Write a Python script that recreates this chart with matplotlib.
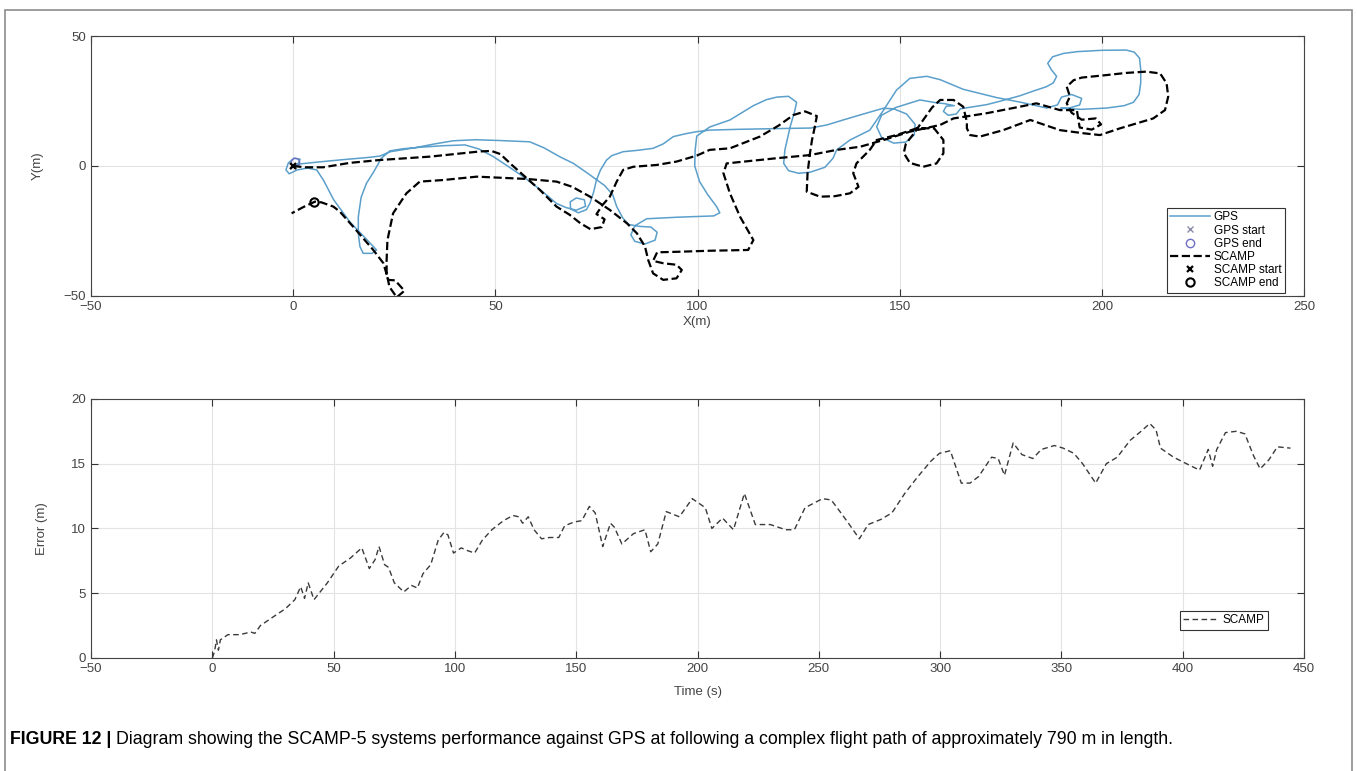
import matplotlib.pyplot as plt
from matplotlib.patches import Rectangle

plt.rcParams['font.family'] = ['Liberation Sans', 'DejaVu Sans']

# GPS track (m)
gps_x = [0, 1.7, 6, 12, 18, 21.4, 24, 30, 35, 39.6, 45, 51, 58.5, 62, 66, 69.3, 73, 77, 79, 80,
         81.5, 83, 85.5, 88.5, 90, 89.5, 87, 84.5, 83.5, 84.5, 87.4, 95, 104, 105.5, 104.7, 102.5,
         100.5, 99.3, 99.4, 99.8, 103, 108, 113.8, 117, 119.6, 122.5, 124.5, 124, 122.9, 121.6,
         121.3, 122.5, 125, 127.8, 131.5, 133.5, 134.4, 137.7, 142.6, 146, 149.2, 152.5, 156.7,
         160, 165.7, 174, 180, 186.3, 189, 190, 192.5, 195, 194.5, 192, 189.8, 195, 201.2, 205.5,
         207.8, 209.2, 209.6, 209.6, 209.3, 208, 206, 200, 194, 190.5, 187.8, 186.6, 187.5, 188.8,
         188, 186.3, 183, 179.7, 175, 171.5, 167, 165, 164, 162, 160.8, 161.5, 163.5, 161, 159.1,
         155, 152.5, 149, 145.5, 144.3, 145.5, 148.5, 151.5, 153.6, 153.8, 151.7, 148.5, 145.9,
         141, 136, 132, 128, 120, 110, 103, 99.8, 97, 94, 91.5, 89, 85, 81.6, 78.8, 77.5, 76, 75,
         74.3, 73.4, 72.5, 70.5, 68.6, 68.5, 70, 72, 72.3, 70, 67.5, 65.1, 61, 56.9, 53, 49.5, 46,
         42.5, 37, 31.3, 27, 23.9, 21.8, 20, 18.1, 16.8, 16.1, 16.1, 16.5, 17.3, 19.5, 20.6, 18,
         14, 10, 7.5, 5.8, 3.5, 1, -1, -1.8, -1.2, 0.2, 1.7, 1.2, 0.4]
gps_y = [0, 0.8, 1.5, 2.4, 3.2, 3.8, 5.5, 7, 8.5, 9.7, 10.1, 9.8, 9.3, 7, 3.5, 1, -3, -7.5, -11,
         -15.6, -20, -22.5, -23.2, -23.5, -25.5, -28.5, -30, -29, -26.5, -23, -20.3, -19.7, -19.2,
         -18, -15.6, -11, -6, 0, 6, 11.5, 15, 17.7, 23.2, 25.5, 26.5, 26.8, 24.5, 21, 15.1, 6.2, 1,
         -1.8, -2.8, -2.4, -0.5, 3, 6.2, 10, 13.8, 21.5, 29.2, 33.7, 34.5, 33.2, 29.5, 26.3, 24.5,
         22.3, 23.5, 26.5, 27.5, 26, 23.5, 22.3, 22.2, 21.8, 22.3, 23.2, 24.5, 27.5, 32, 37, 41.5,
         43.8, 44.6, 44.5, 44, 43.3, 42, 39.5, 37, 34.5, 32, 30.5, 28.8, 27, 25, 23.6, 22.5, 22,
         20, 19.5, 21, 23, 23.2, 24, 24.3, 25.4, 24.2, 22.5, 19.5, 15.1, 11, 8.8, 9.2, 12, 16, 20,
         22, 22.2, 20, 17.7, 15.8, 14.6, 14.4, 14.1, 13.8, 13.2, 12.4, 11.3, 8.5, 6.8, 6, 5.5, 4,
         2.3, -1.5, -5.4, -10, -14.3, -16.8, -18, -16.5, -13.8, -12.3, -13, -15.5, -17, -16,
         -14.4, -9, -4.1, 0, 3.6, 6.5, 8.1, 7.8, 7.2, 6.6, 5.8, 3, -2, -6.7, -12, -19.5, -26, -31,
         -33.6, -33.6, -32.3, -28, -21.5, -13, -5.5, -1.5, -0.8, -1.5, -3, -1.5, 1.2, 3, 2.6, 0.9,
         0]
gps_start = (0, 0)
gps_end = (0.4, 1.7)

# SCAMP track (m)
scamp_x = [0, 3, 7.4, 14, 21.4, 28, 33.8, 40, 46.2, 49, 51.2, 54, 56.9, 61, 65.1, 68.4, 71, 73.5,
           76.3, 77, 75, 76.5, 78.3, 80, 81.6, 84.1, 89.9, 94.8, 99.8, 103, 108, 115.4, 120, 123.7,
           126.6, 129.5, 129, 128.3, 127.8, 127.2, 127, 130.3, 134, 137.7, 139.8, 138.5, 139.3,
           142.6, 144.3, 149.2, 154.2, 158.5, 160.8, 160.8, 159.1, 155.8, 152.5, 151, 151.5, 153.5,
           155.8, 158, 160, 163.3, 165.7, 166.6, 166.6, 167.4, 169.8, 175.6, 182.3, 189.6, 195.4,
           199.5, 204.5, 212.7, 215.6, 216.4, 216, 214.4, 211, 206, 201.3, 195, 193, 191.3, 192.1,
           191.3, 192.5, 195, 198.5, 199.8, 197.5, 194.5, 193.8, 189.6, 183.8, 179.7, 171.5, 163.3,
           160, 152.5, 146, 140.2, 134.4, 127.8, 119.6, 107.2, 106.4, 108, 110.5, 113.8, 112.5, 103,
           95, 90, 89, 91.5, 94.8, 96.1, 94.8, 91.5, 89, 87.8, 87, 85, 82.5, 78.3, 73.4, 69, 65.1, 58,
           53.6, 45.4, 37.1, 31.3, 28, 24.7, 23.3, 23.1, 23.1, 23.8, 25.6, 27.5, 25.2, 23.5, 22.3,
           19.8, 14.8, 11.5, 9.9, 7, 5.4, 2.5, -0.4]
scamp_y = [0, -0.5, -0.5, 1.2, 2.3, 3, 3.6, 4.6, 5.6, 5.8, 4.6, 0.5, -3.5, -9.2, -15.6, -18.8, -22,
           -24.3, -23.5, -20.5, -18.5, -15, -11.8, -6, -1.5, -0.3, 0.4, 1.7, 4, 6.2, 6.8, 11.3,
           15.5, 19.6, 21, 19.2, 15.1, 10, 4.9, -2.8, -9.9, -11.8, -11.6, -10.5, -8, -2.8, 1, 6.2,
           10, 11.9, 14.5, 14.5, 10, 4.9, 1, -0.3, 1.2, 5, 8.5, 12.5, 17.7, 22.5, 25.4, 25.4, 22.8,
           17, 14.5, 11.9, 11.3, 13.8, 17.7, 13.8, 12.6, 11.9, 14.5, 18.3, 21.5, 26.7, 31.8, 35.6,
           36.3, 35.8, 35, 34, 33, 30.5, 26.7, 24.1, 20.5, 17.8, 18.3, 16, 14, 14.8, 21.5, 21.5,
           24.1, 22.8, 20.3, 18.3, 15.8, 13.2, 10, 7.4, 6.2, 4.2, 3, 1, -2.8, -10.5, -19.5, -28.5,
           -32.3, -32.6, -33, -33.2, -36.5, -37.4, -38, -40, -43.2, -43.8, -41.3, -36.2, -31, -25.9,
           -22, -16.9, -11.8, -8, -6, -5, -4.7, -4.1, -5.4, -6, -10.5, -18.2, -28.5, -36, -41.3,
           -46.5, -50.5, -48, -44, -43.8, -37.4, -32.3, -23.3, -17.5, -15.6, -14, -13.7, -15.8,
           -18.2]
scamp_start = (0, 0)
scamp_end = (5.2, -13.7)

# error vs time
err_t = [0, 0.9, 1.7, 2.5, 3.3, 6.4, 11.2, 15.9, 17.5, 19.8, 25.3, 30.1, 34.0, 36.4, 38.0, 39.5,
         41.9, 47.4, 52.1, 56.8, 61.6, 64.7, 67.1, 68.7, 71.0, 72.6, 75.0, 78.9, 82.1, 84.5, 86.8,
         90.0, 93.1, 95.5, 97.1, 99.4, 102.6, 105.0, 108.1, 111.3, 115.2, 120.0, 123.9, 126.3,
         127.9, 130.2, 132.6, 135.7, 138.9, 142.8, 145.2, 149.1, 152.3, 155.4, 157.8, 160.9, 164.1,
         165.7, 168.8, 173.6, 178.3, 180.7, 183.6, 187.1, 192.5, 197.8, 203.2, 205.9, 210.3, 214.8,
         219.3, 223.8, 230.0, 236.3, 239.9, 244.3, 251.5, 255.1, 258.7, 262.2, 266.7, 270.3, 275.6,
         280.1, 285.4, 290.8, 296.2, 299.7, 304.2, 306.0, 308.7, 312.3, 315.8, 321.2, 323.9, 326.5,
         330.1, 333.7, 338.2, 341.7, 347.1, 350.7, 355.1, 358.7, 364.1, 368.5, 373.0, 378.3, 382.8,
         386.4, 389.0, 390.8, 396.2, 401.5, 406.9, 410.5, 412.3, 414.0, 417.6, 422.1, 425.6, 429.2,
         431.9, 435.5, 439.0, 444.4]
err_v = [0, 0.5, 1.4, 0.6, 1.4, 1.8, 1.8, 2.0, 1.9, 2.5, 3.2, 3.8, 4.5, 5.5, 4.6, 5.8, 4.5, 5.8,
         7.1, 7.7, 8.5, 6.9, 7.6, 8.6, 7.2, 7.0, 5.8, 5.1, 5.6, 5.4, 6.5, 7.2, 9.1, 9.7, 9.5, 8.1,
         8.5, 8.3, 8.1, 9.1, 9.9, 10.6, 11.0, 10.9, 10.4, 10.9, 9.9, 9.2, 9.3, 9.3, 10.2, 10.5,
         10.6, 11.7, 11.2, 8.6, 10.4, 10.1, 8.8, 9.6, 9.9, 8.2, 8.8, 11.3, 10.9, 12.3, 11.6, 10.0,
         10.8, 9.9, 12.7, 10.3, 10.3, 9.9, 9.9, 11.6, 12.3, 12.2, 11.3, 10.4, 9.2, 10.3, 10.7, 11.2,
         12.7, 14.0, 15.2, 15.8, 16.0, 15.0, 13.5, 13.5, 14.0, 15.5, 15.4, 14.1, 16.6, 15.7, 15.4,
         16.1, 16.4, 16.2, 15.8, 15.0, 13.5, 15.0, 15.5, 16.8, 17.5, 18.1, 17.6, 16.2, 15.5, 15.0,
         14.5, 16.1, 14.8, 16.1, 17.4, 17.5, 17.3, 15.6, 14.6, 15.3, 16.3, 16.2]


def matlab_axes(ax):
    ax.grid(True, color='#e3e3e3', linewidth=0.8)
    ax.set_axisbelow(True)
    ax.tick_params(direction='in', top=True, right=True, length=5, width=0.8,
                   color='#333333', labelcolor='#444444', labelsize=9.5)
    for s in ax.spines.values():
        s.set_color('#444444')
        s.set_linewidth(0.8)


fig = plt.figure(figsize=(13.57, 7.71), dpi=100)
ax1 = fig.add_axes([0.0671, 0.6161, 0.8939, 0.3372])
ax2 = fig.add_axes([0.0671, 0.1466, 0.8939, 0.3360])

# top: trajectories
ax1.plot(gps_x, gps_y, color='#5b9fcb', lw=1.1, label='GPS')
ax1.plot([gps_start[0]], [gps_start[1]], 'x', color='#8c8ca8', ms=5, label='GPS start')
ax1.plot([gps_end[0]], [gps_end[1]], 'o', mfc='none', mec='#6f6fc4', ms=6, label='GPS end')
ax1.plot(scamp_x, scamp_y, '--', color='black', lw=1.6, label='SCAMP')
ax1.plot([scamp_start[0]], [scamp_start[1]], 'x', color='black', ms=5, mew=1.6, label='SCAMP start')
ax1.plot([scamp_end[0]], [scamp_end[1]], 'o', mfc='none', mec='black', ms=6, mew=1.5, label='SCAMP end')
ax1.set_xlim(-50, 250)
ax1.set_ylim(-50, 50)
ax1.set_xticks(range(-50, 251, 50))
ax1.set_yticks([-50, 0, 50])
matlab_axes(ax1)
ax1.set_xlabel('X(m)', fontsize=9.5, color='#444444', labelpad=2)
ax1.set_ylabel('Y(m)', fontsize=9.5, color='#444444', labelpad=14)
leg1 = ax1.legend(loc='lower right', bbox_to_anchor=(0.9843, 0.012), borderaxespad=0,
                  fontsize=8.5, handlelength=3.4, handletextpad=0.3, labelspacing=0.1,
                  borderpad=0.3, fancybox=False, framealpha=1, edgecolor='#333333')
leg1.get_frame().set_linewidth(0.8)

# bottom: error over time
ax2.plot(err_t, err_v, '--', color='#3a3a3a', lw=1.0, dashes=(4, 2.5), label='SCAMP')
ax2.set_xlim(-50, 450)
ax2.set_ylim(0, 20)
ax2.set_xticks(range(-50, 451, 50))
ax2.set_yticks(range(0, 21, 5))
matlab_axes(ax2)
ax2.set_xlabel('Time (s)', fontsize=9.5, color='#444444', labelpad=8)
ax2.set_ylabel('Error (m)', fontsize=9.5, color='#444444', labelpad=17)
leg2 = ax2.legend(loc='lower right', bbox_to_anchor=(0.970, 0.108), borderaxespad=0,
                  fontsize=8.5, handlelength=3.0, handletextpad=0.3, borderpad=0.3,
                  fancybox=False, framealpha=1, edgecolor='#333333')
leg2.get_frame().set_linewidth(0.8)

# outer frame and caption
fig.patches.append(Rectangle((5 / 1357, -0.01), 1347 / 1357, 1.01 - 10 / 771,
                             transform=fig.transFigure, fill=False,
                             edgecolor='#8c8c8c', lw=1.2))
cap_y = 1 - 744 / 771
cap_fam = ['Liberation Sans Narrow', 'Liberation Sans', 'DejaVu Sans']
cap_bold = 'FIGURE 12 |'
cap_rest = ('Diagram showing the SCAMP-5 systems performance against GPS at following a complex '
            'flight path of approximately 790 m in length.')
t1 = fig.text(10 / 1357, cap_y, cap_bold, fontsize=12, fontweight='bold', va='baseline',
              family=cap_fam)
t2 = fig.text(0.1, cap_y, cap_rest, fontsize=12, va='baseline', family=cap_fam)
# fit caption to the width it takes in the original
r = fig.canvas.get_renderer()
for _ in range(3):
    b1 = t1.get_window_extent(r)
    t2.set_x((b1.x1 + 5) / fig.bbox.width)
    b2 = t2.get_window_extent(r)
    f = t1.get_fontsize() * (1175 - 10) / (b2.x1 - b1.x0)
    t1.set_fontsize(f)
    t2.set_fontsize(f)
b1 = t1.get_window_extent(r)
t2.set_x((b1.x1 + 5) / fig.bbox.width)

fig.savefig('out.png', dpi=100)
